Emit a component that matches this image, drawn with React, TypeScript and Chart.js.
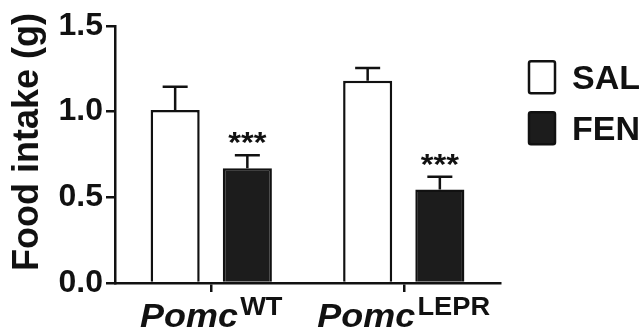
import React, { useEffect, useRef } from 'react';
import { Chart, registerables } from 'chart.js';

Chart.register(...registerables);

// ---- data ----
const genotypes = ['Pomc', 'Pomc'];
const genotypeSup = ['WT', 'LEPR'];
const treatments = ['SAL', 'FEN'];
const salMeans = [1.01, 1.18];
const salErrors = [0.135, 0.075];
const fenMeans = [0.67, 0.545];
const fenErrors = [0.075, 0.075];
const fenSignificance = ['***', '***'];
const yTicks = [0, 0.5, 1.0, 1.5];
const yTitle = 'Food intake (g)';

const FONT = "'Liberation Sans', Arial, Helvetica, sans-serif";
const INK = '#111111';
const FEN_FILL = '#1c1c1c';
const STRETCH = 1.09;

const errorBarPlugin = {
  id: 'errorBars',
  afterDatasetsDraw(chart: any) {
    const ctx = chart.ctx;
    const y = chart.scales.y;
    chart.data.datasets.forEach((ds: any, di: number) => {
      const meta = chart.getDatasetMeta(di);
      meta.data.forEach((bar: any, i: number) => {
        const v = ds.data[i];
        const e = ds.errors[i];
        const yTop = y.getPixelForValue(v);
        const yErr = y.getPixelForValue(v + e);
        ctx.save();
        ctx.strokeStyle = INK;
        ctx.lineWidth = 2.5;
        ctx.beginPath();
        ctx.moveTo(bar.x, yTop);
        ctx.lineTo(bar.x, yErr);
        ctx.moveTo(bar.x - 12.5, yErr);
        ctx.lineTo(bar.x + 12.5, yErr);
        ctx.stroke();
        if (ds.stars && ds.stars[i]) {
          ctx.fillStyle = INK;
          ctx.font = `bold 30px ${FONT}`;
          ctx.textAlign = 'center';
          ctx.textBaseline = 'alphabetic';
          ctx.translate(bar.x, yErr - 3);
          ctx.scale(STRETCH, 1);
          ctx.fillText(ds.stars[i], 0, 0);
        }
        ctx.restore();
      });
    });
  },
};

const textPlugin = {
  id: 'customText',
  afterDraw(chart: any) {
    const ctx = chart.ctx;
    const xs = chart.scales.x;
    ctx.save();
    ctx.fillStyle = INK;
    // x category labels with superscripts
    genotypes.forEach((g, i) => {
      const cx = xs.getPixelForTick(i);
      ctx.font = `italic bold 33px ${FONT}`;
      const w1 = ctx.measureText(g).width;
      ctx.font = `bold 25px ${FONT}`;
      const w2 = ctx.measureText(genotypeSup[i]).width;
      const total = (w1 + w2 + 2) * STRETCH;
      ctx.save();
      ctx.translate(cx - total / 2, 0);
      ctx.scale(STRETCH, 1);
      ctx.textAlign = 'left';
      ctx.textBaseline = 'alphabetic';
      ctx.font = `italic bold 33px ${FONT}`;
      ctx.fillText(g, 0, 327);
      ctx.font = `bold 25px ${FONT}`;
      ctx.fillText(genotypeSup[i], w1 + 2, 315);
      ctx.restore();
    });
    // y title
    ctx.save();
    ctx.translate(38, 142);
    ctx.rotate(-Math.PI / 2);
    ctx.font = `bold 36px ${FONT}`;
    ctx.textAlign = 'center';
    ctx.textBaseline = 'alphabetic';
    ctx.fillText(yTitle, 0, 0);
    ctx.restore();
    // legend
    const boxes = [
      { y: 60, fill: '#ffffff' },
      { y: 111, fill: FEN_FILL },
    ];
    chart.data.datasets.forEach((ds: any, i: number) => {
      const b = boxes[i];
      ctx.lineWidth = 2.5;
      ctx.strokeStyle = INK;
      ctx.fillStyle = ds.backgroundColor;
      ctx.beginPath();
      ctx.roundRect(529, b.y + 1.25, 26, 32, 2);
      ctx.fill();
      ctx.stroke();
      ctx.fillStyle = INK;
      ctx.font = `bold 34px ${FONT}`;
      ctx.textAlign = 'left';
      ctx.textBaseline = 'alphabetic';
      ctx.fillText(ds.label, 572, b.y + 29);
    });
    ctx.restore();
  },
};

export default function App() {
  const ref = useRef<HTMLCanvasElement | null>(null);

  useEffect(() => {
    if (!ref.current) return;
    const chart = new Chart(ref.current, {
      type: 'bar',
      data: {
        labels: genotypes.map((g, i) => g + genotypeSup[i]),
        datasets: [
          {
            label: treatments[0],
            data: salMeans,
            errors: salErrors,
            backgroundColor: '#ffffff',
            borderColor: INK,
            borderWidth: 2.5,
            categoryPercentage: 0.75,
            barPercentage: 0.68,
          } as any,
          {
            label: treatments[1],
            data: fenMeans,
            errors: fenErrors,
            stars: fenSignificance,
            backgroundColor: FEN_FILL,
            borderColor: INK,
            borderWidth: 2.5,
            categoryPercentage: 0.75,
            barPercentage: 0.68,
          } as any,
        ],
      },
      options: {
        responsive: true,
        maintainAspectRatio: false,
        animation: false,
        layout: { padding: { top: 26, right: 142, left: 0, bottom: 0 } },
        plugins: {
          legend: { display: false },
          tooltip: { enabled: false },
        },
        scales: {
          x: {
            type: 'category',
            offset: true,
            grid: {
              offset: false,
              drawOnChartArea: false,
              drawTicks: true,
              tickLength: 9,
              color: INK,
              lineWidth: 2.5,
            },
            border: { color: INK, width: 2.5 },
            ticks: { callback: () => '' },
            afterFit: (s: any) => {
              s.height = 52;
            },
          },
          y: {
            min: 0,
            max: 1.5,
            afterBuildTicks: (s: any) => {
              s.ticks = yTicks.map((v) => ({ value: v }));
            },
            grid: {
              drawOnChartArea: false,
              drawTicks: true,
              tickLength: 9,
              color: INK,
              lineWidth: 2.5,
            },
            border: { color: INK, width: 2.5 },
            ticks: {
              color: INK,
              padding: 3,
              font: { family: FONT, size: 32, weight: 'bold' },
              callback: (v: any) => Number(v).toFixed(1),
            },
            afterFit: (s: any) => {
              s.width = 115;
            },
          },
        },
      } as any,
      plugins: [errorBarPlugin, textPlugin],
    });
    return () => chart.destroy();
  }, []);

  return (
    <div style={{ position: 'absolute', left: 0, top: 0, width: 642, height: 335, background: '#fff' }}>
      <canvas ref={ref} />
    </div>
  );
}
